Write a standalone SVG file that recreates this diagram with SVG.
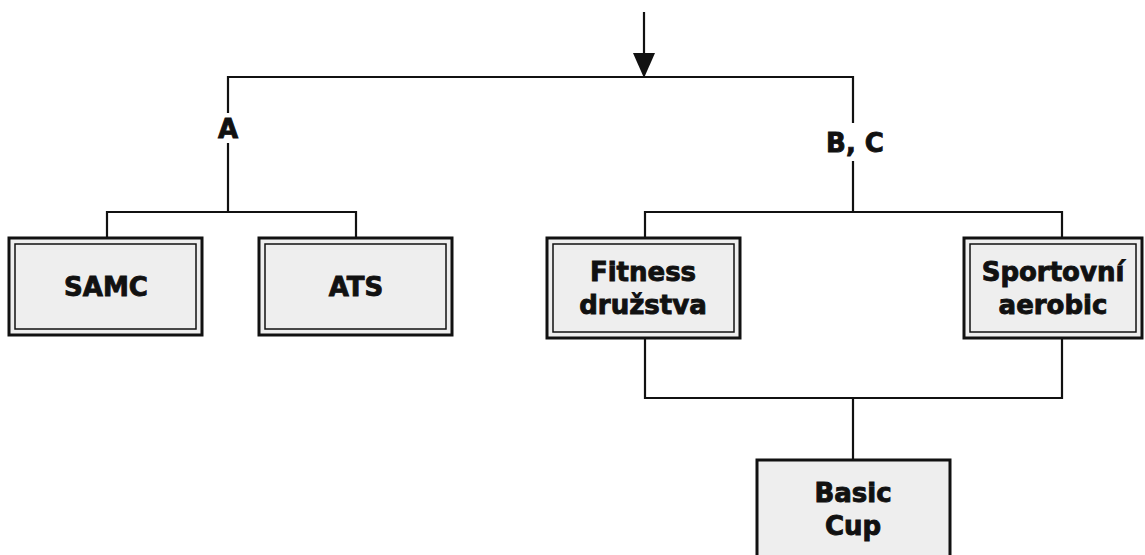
<svg xmlns="http://www.w3.org/2000/svg" width="1145" height="555" viewBox="0 0 1145 555">
<style>
.bg{fill:#ffffff}
.box{fill:#eeeeee;stroke:#111;stroke-width:3}
.inner{fill:none;stroke:#111;stroke-width:1.5}
.ln{fill:none;stroke:#111;stroke-width:2.2}
.t{font-family:"DejaVu Sans",sans-serif;font-weight:bold;font-size:26px;fill:#111;stroke:#111;stroke-width:0.9;text-anchor:middle}
</style>
<rect class="bg" x="0" y="0" width="1145" height="555"/>
<g id="connectors">
<line class="ln" x1="644" y1="12" x2="644" y2="54"/>
<path d="M633,53 L655,53 L644,78 Z" fill="#111"/>
<polyline class="ln" points="228,113 228,77 853,77 853,123"/>
<line class="ln" x1="228" y1="143" x2="228" y2="212"/>
<line class="ln" x1="853" y1="161" x2="853" y2="212"/>
<polyline class="ln" points="107,238 107,212 356,212 356,238"/>
<polyline class="ln" points="645,238 645,212 1062,212 1062,238"/>
<polyline class="ln" points="645,338 645,398 1062,398 1062,338"/>
<line class="ln" x1="853" y1="398" x2="853" y2="460"/>
<text class="t" x="228" y="138">A</text>
<text class="t" x="855" y="152">B, C</text>
</g>
<g id="samc">
<rect class="box" x="9" y="238" width="193" height="97"/>
<rect class="inner" x="15" y="244" width="181" height="85"/>
<text class="t" x="106" y="296">SAMC</text>
</g>
<g id="ats">
<rect class="box" x="259" y="238" width="193" height="97"/>
<rect class="inner" x="265" y="244" width="181" height="85"/>
<text class="t" x="356" y="296">ATS</text>
</g>
<g id="fitness">
<rect class="box" x="547" y="238" width="193" height="100"/>
<rect class="inner" x="553" y="244" width="181" height="88"/>
<text class="t" x="643" y="281">Fitness</text>
<text class="t" x="643" y="314">družstva</text>
</g>
<g id="sportovni">
<rect class="box" x="964" y="238" width="178" height="100"/>
<rect class="inner" x="970" y="244" width="166" height="88"/>
<text class="t" x="1053" y="281">Sportovní</text>
<text class="t" x="1053" y="314">aerobic</text>
</g>
<g id="basiccup">
<rect class="box" x="757" y="460" width="193" height="100"/>
<text class="t" x="853" y="502">Basic</text>
<text class="t" x="853" y="535">Cup</text>
</g>
</svg>
